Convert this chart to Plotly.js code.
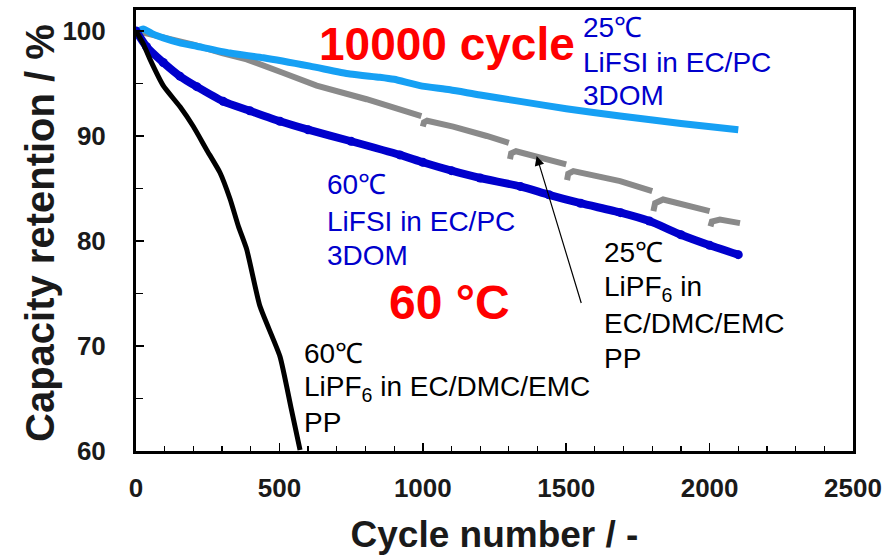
<!DOCTYPE html>
<html><head><meta charset="utf-8">
<script src="https://cdn.plot.ly/plotly-3.0.1.min.js"></script>
<style>html,body{margin:0;padding:0;background:#fff;}#chart{width:893px;height:555px;}</style>
</head><body><div id="chart"></div>
<script>
// 60°C LiPF6 in EC/DMC/EMC, PP (black)
const blackCycles = [0, 25, 49, 95, 153, 200, 246, 293, 328, 357, 386, 432, 502, 540, 572];
const blackRet    = [100, 98.8, 97.3, 94.8, 92.8, 90.9, 88.7, 86.5, 84.0, 81.4, 79.2, 73.8, 69.0, 64.2, 60.1];

// 60°C LiFSI in EC/PC, 3DOM (dark blue)
const dblueCycles = [0, 37, 95, 153, 212, 304, 397, 502, 600, 750, 920, 1000, 1100, 1200, 1340, 1440, 1550, 1690, 1790, 1900, 2000, 2100];
const dblueRet    = [100, 98.5, 97.0, 95.7, 94.7, 93.3, 92.4, 91.4, 90.6, 89.5, 88.2, 87.5, 86.7, 86.0, 85.2, 84.4, 83.6, 82.7, 81.9, 80.6, 79.6, 78.7];

// 25°C LiFSI in EC/PC, 3DOM (light blue)
const lblueCycles = [0, 25, 60, 95, 150, 212, 328, 444, 607, 746, 850, 900, 990, 1095, 1200, 1339, 1500, 1688, 1900, 2100];
const lblueRet    = [99.9, 100.2, 99.7, 99.35, 98.9, 98.55, 97.9, 97.45, 96.65, 95.9, 95.6, 95.4, 94.8, 94.4, 93.9, 93.3, 92.6, 91.9, 91.2, 90.6];

// 25°C LiPF6 in EC/DMC/EMC, PP (gray, interrupted segments)
const grayCycles = [0, 50, 100, 200, 300, 386, 514, 630, 804, 900, 995, null,
                    1000, 1004, 1015, 1106, 1223, 1300, null,
                    1304, 1308, 1325, 1400, 1500, null,
                    1503, 1507, 1525, 1600, 1688, 1800, null,
                    1804, 1810, 1838, 1900, 2000, null,
                    2003, 2008, 2036, 2106];
const grayRet    = [100, 99.7, 99.4, 98.7, 97.9, 97.3, 96.0, 94.8, 93.5, 92.7, 91.9, null,
                    90.9, 91.3, 91.45, 90.9, 90.0, 89.35, null,
                    87.8, 88.35, 88.55, 88.0, 87.3, null,
                    85.8, 86.4, 86.65, 86.2, 85.7, 84.75, null,
                    82.85, 83.6, 83.95, 83.5, 82.85, null,
                    81.4, 81.85, 82.05, 81.7];

const xTickVals = [0, 500, 1000, 1500, 2000, 2500];
const yTickVals = [60, 70, 80, 90, 100];

const FONT = 'Liberation Sans, Arial, sans-serif';
const traces = [
  {x: grayCycles, y: grayRet, mode: 'lines', connectgaps: false,
   line: {color: '#8a8a8a', width: 6}, hoverinfo: 'skip'},
  {x: lblueCycles, y: lblueRet, mode: 'lines',
   line: {color: '#16a0f4', width: 7, shape: 'spline', smoothing: 0.6}},
  {x: dblueCycles, y: dblueRet, mode: 'lines+markers',
   line: {color: '#0000cc', width: 8, shape: 'spline', smoothing: 0.6},
   marker: {color: '#0000cc', size: 9}},
  {x: blackCycles, y: blackRet, mode: 'lines',
   line: {color: '#000000', width: 5, shape: 'spline', smoothing: 0.5}}
];

// helpers for annotation placement (pixel -> paper)
const L = 136, T = 10, W = 717, H = 441;
const pxX = p => (p - L) / W;
const pxY = p => 1 - (p - T) / H;

function lab(text, left, cy, size, color, bold) {
  return {text: text, xref: 'paper', yref: 'paper', x: pxX(left), y: pxY(cy),
          xanchor: 'left', yanchor: 'middle', showarrow: false, borderpad: 0,
          font: {family: FONT, size: size, color: color, weight: bold ? 700 : 400}};
}
const BLUE = '#0000cc', RED = '#ff0000', BLK = '#000000';
const annotations = [
  lab('10000 cycle', 318, 44, 46, RED, true),
  lab('25℃', 582, 27, 28, BLUE), lab('LiFSI in EC/PC', 582, 62, 28, BLUE), lab('3DOM', 582, 95, 28, BLUE),
  lab('60℃', 326, 185, 28, BLUE), lab('LiFSI in EC/PC', 326, 222, 28, BLUE), lab('3DOM', 326, 256, 28, BLUE),
  lab('60 °C', 388, 302, 48, RED, true),
  lab('60℃', 303, 353, 28, BLK), lab('LiPF<sub>6</sub> in EC/DMC/EMC', 303, 388, 28, BLK), lab('PP', 303, 422, 28, BLK),
  lab('25℃', 603, 253, 28, BLK), lab('LiPF<sub>6</sub> in', 603, 288, 28, BLK), lab('EC/DMC/EMC', 603, 323, 28, BLK), lab('PP', 603, 358, 28, BLK),
  {x: 1397, y: 88.1, xref: 'x', yref: 'y', ax: 1554, ay: 73.95, axref: 'x', ayref: 'y',
   text: '', showarrow: true, arrowhead: 2, arrowsize: 1.6, arrowwidth: 1.2, arrowcolor: '#000'},
  // y-axis title
  {text: 'Capacity retention / %', xref: 'paper', yref: 'paper', x: pxX(40), y: pxY(233),
   xanchor: 'center', yanchor: 'middle', textangle: -90, showarrow: false,
   font: {family: FONT, size: 40, color: '#1a1a1a', weight: 700}}
];

const axisCommon = {
  showline: true, linewidth: 3, linecolor: '#000', mirror: true,
  showgrid: false, zeroline: false, ticks: 'inside', ticklen: 8, tickwidth: 1.5, tickcolor: '#000',
  tickfont: {family: FONT, size: 26, color: '#1a1a1a', weight: 700}
};
const layout = {
  width: 893, height: 555,
  margin: {l: L, r: 893 - L - W, t: T, b: 555 - T - H},
  paper_bgcolor: '#fff', plot_bgcolor: '#fff', showlegend: false,
  xaxis: Object.assign({}, axisCommon, {
    range: [0, 2500], tickvals: xTickVals, ticklabelstandoff: 12,
    minor: {dtick: 100, ticks: 'inside', ticklen: 5, tickwidth: 1.2, tickcolor: '#000'},
    title: {text: 'Cycle number / -', font: {family: FONT, size: 37, color: '#1a1a1a', weight: 700}, standoff: 20}
  }),
  yaxis: Object.assign({}, axisCommon, {
    range: [60, 102], tickvals: yTickVals, ticklabelstandoff: 22,
    minor: {dtick: 5, tick0: 60, ticks: 'inside', ticklen: 7, tickwidth: 1.2, tickcolor: '#000'}
  }),
  annotations: annotations
};
Plotly.newPlot('chart', traces, layout, {displayModeBar: false, staticPlot: true});
</script></body></html>
